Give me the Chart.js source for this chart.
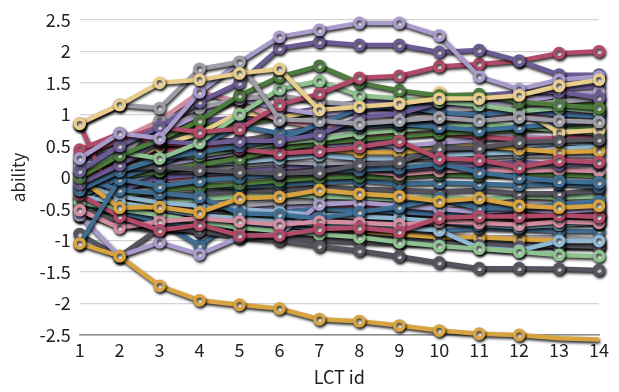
<!DOCTYPE html>
<html>
<head>
<meta charset="utf-8">
<script src="https://cdn.jsdelivr.net/npm/chart.js@4.4.1/dist/chart.umd.min.js"></script>
<style>
  html, body { margin: 0; padding: 0; background: #ffffff; }
  #wrap { position: relative; width: 619px; height: 392px; }
</style>
</head>
<body>
<div id="wrap"><canvas id="chart"></canvas></div>
<script>
// LCT ids along the x axis
const lctIds = ['1','2','3','4','5','6','7','8','9','10','11','12','13','14'];
const yMin = -2.5, yMax = 2.5, yStep = 0.5;

// ability estimates per learner, one value per LCT id
const goldBottom   = [-1.05,-1.25,-1.72,-1.95,-2.02,-2.08,-2.25,-2.28,-2.35,-2.43,-2.48,-2.50,-2.55,-2.57];
const goldTop      = [0.85,1.15,1.50,1.55,1.65,1.72,1.07,1.12,1.17,1.25,1.25,1.30,1.45,1.55];
const grayTop      = [0.85,1.15,1.10,1.72,1.83,0.92,0.90,0.85,0.90,0.95,0.90,0.95,0.90,0.88];
const lavenderTop  = [0.30,0.70,0.62,1.35,1.83,2.23,2.34,2.45,2.45,2.25,1.60,1.40,1.55,1.60];
const purpleTop    = [0.10,0.50,0.80,1.20,1.50,2.05,2.15,2.10,2.10,1.99,2.02,1.85,1.63,1.63];
const redRise      = [0.35,0.60,0.80,0.72,0.77,1.15,1.33,1.58,1.61,1.76,1.80,1.85,1.97,2.00];
const greenDark    = [0.00,0.35,0.60,0.90,1.30,1.60,1.77,1.50,1.38,1.30,1.32,1.20,1.15,1.10];
const greenLight   = [0.10,0.40,0.30,0.55,1.00,1.40,1.53,1.30,1.25,1.20,1.15,1.05,1.10,1.05];
const purpleMid    = [-0.10,0.20,0.58,0.53,0.58,0.58,0.68,0.95,1.01,1.19,1.25,1.36,1.36,1.26];
const blueUpper    = [-0.20,0.10,0.30,0.40,0.50,0.60,0.85,1.09,1.14,1.03,0.99,1.06,1.00,0.97];
const redMid       = [0.44,0.70,0.55,0.50,0.45,0.38,0.42,0.48,0.58,0.30,0.28,0.16,0.27,0.24];
const darkGrayMid  = [-0.20,0.14,0.17,0.12,0.09,0.06,0.08,0.20,0.24,0.46,0.47,0.56,0.58,0.60];
const blueLow      = [-1.05,-0.03,-0.14,-0.05,0.00,0.05,0.10,0.12,0.15,0.22,0.08,0.00,-0.06,-0.08];
const goldMid      = [-0.02,-0.48,-0.47,-0.56,-0.33,-0.31,-0.20,-0.26,-0.30,-0.38,-0.33,-0.45,-0.48,-0.45];
const redLow       = [-0.27,-0.62,-0.84,-0.75,-0.92,-0.92,-0.82,-0.80,-0.86,-0.64,-0.62,-0.62,-0.60,-0.63];
const pinkLow      = [-0.52,-0.80,-0.70,-0.65,-0.70,-0.75,-0.70,-0.72,-0.75,-0.70,-0.72,-0.75,-0.70,-0.72];
const blueMidLow   = [0.00,-0.20,-0.25,-0.31,-0.57,-0.59,-0.65,-0.55,-0.47,-0.33,-0.49,-0.49,-0.43,-0.38];
const purpleLow    = [-0.60,-1.25,-1.03,-1.22,-0.95,-0.90,-0.43,-0.40,-0.45,-0.50,-0.55,-0.50,-0.55,-0.50];
const darkGrayLow  = [-0.50,-0.70,-0.80,-0.85,-0.95,-1.00,-1.09,-1.16,-1.25,-1.35,-1.44,-1.44,-1.45,-1.47];
const greenLow     = [-0.40,-0.50,-0.60,-0.70,-0.80,-0.85,-0.90,-0.95,-1.03,-1.09,-1.13,-1.18,-1.23,-1.25];
const lightBlueLow = [-0.30,-0.40,-0.50,-0.60,-0.65,-0.70,-0.75,-0.78,-0.80,-0.84,-1.12,-1.16,-1.01,-1.01];
const lightBlueMid = [-0.10,-0.30,-0.40,-0.45,-0.50,-0.55,-0.60,-0.62,-0.65,-0.70,-0.75,-0.79,-0.75,-0.72];
const grayClimb    = [-0.90,-1.25,-0.80,-0.85,-0.90,-0.95,-1.00,-1.02,-1.05,-1.05,-1.08,-1.10,-1.08,-1.10];
const blueDip      = [-0.40,-0.55,-0.70,-1.08,-0.60,-0.55,-0.50,-0.52,-0.55,-0.58,-0.60,-0.62,-0.60,-0.62];
const redDrop      = [0.85,-0.58,-0.50,-0.45,-0.50,-0.55,-0.50,-0.45,-0.55,-0.60,-0.55,-0.60,-0.58,-0.60];
const grayA        = [0.20,0.30,0.90,1.10,1.25,1.30,1.20,1.15,1.10,1.05,1.10,1.15,1.20,1.25];
const lavenderA    = [0.10,0.40,0.70,1.00,1.24,1.10,1.00,1.05,1.00,1.10,1.15,1.20,1.30,1.35];
const pinkA        = [0.30,0.60,0.90,1.35,1.20,0.90,0.80,0.85,0.90,0.95,1.00,0.95,1.00,1.00];
const paleGoldA    = [-0.10,0.20,0.50,0.70,1.03,0.95,1.06,1.10,1.15,1.35,1.20,1.10,0.71,0.75];
const blueA        = [-0.30,0.00,0.20,0.50,0.82,0.70,0.75,0.80,0.85,0.80,0.75,0.80,0.85,0.90];
const darkGrayA    = [0.05,0.30,0.50,0.60,0.58,0.70,0.80,0.85,0.85,0.90,0.95,1.00,1.05,1.05];
const greenLightA  = [-0.20,0.10,0.30,0.35,0.45,0.55,0.60,0.70,0.75,0.80,0.85,0.80,0.75,0.70];
const greenDarkA   = [-0.30,0.00,0.10,0.20,0.30,0.45,0.55,0.60,0.65,0.70,0.72,0.75,0.80,0.78];
const redA         = [0.00,0.25,0.40,0.55,0.60,0.65,0.60,0.62,0.68,0.70,0.65,0.60,0.62,0.66];
const lavenderB    = [-0.15,0.05,0.20,0.30,0.40,0.50,0.50,0.55,0.50,0.55,0.60,0.65,0.62,0.60];
const goldA        = [0.10,0.15,0.25,0.35,0.35,0.40,0.45,0.40,0.40,0.45,0.50,0.45,0.40,0.42];
const lightBlueA   = [-0.35,-0.10,0.10,0.20,0.25,0.30,0.35,0.30,0.30,0.35,0.38,0.40,0.45,0.50];
const grayB        = [-0.05,0.05,0.10,0.10,0.20,0.25,0.22,0.25,0.30,0.30,0.32,0.35,0.35,0.35];
const purpleA      = [-0.40,-0.20,0.00,0.05,0.10,0.15,0.20,0.15,0.12,0.18,0.20,0.25,0.20,0.22];
const pinkB        = [-0.20,-0.10,-0.05,0.00,0.05,0.10,0.12,0.10,0.05,0.10,0.12,0.10,0.12,0.10];
const greenDarkB   = [-0.45,-0.30,-0.20,-0.15,-0.10,-0.05,0.00,0.02,0.00,0.05,0.03,0.05,0.05,0.02];
const blueB        = [-0.10,-0.15,-0.10,-0.12,-0.15,-0.10,-0.08,-0.05,-0.10,-0.08,-0.10,-0.12,-0.10,-0.15];
const darkGrayB    = [-0.30,-0.35,-0.30,-0.25,-0.20,-0.20,-0.15,-0.18,-0.20,-0.22,-0.20,-0.25,-0.25,-0.20];
const greenLightB  = [-0.50,-0.45,-0.40,-0.35,-0.30,-0.28,-0.30,-0.32,-0.35,-0.30,-0.35,-0.30,-0.32,-0.30];
const grayC        = [-0.55,-0.50,-0.45,-0.50,-0.45,-0.40,-0.38,-0.40,-0.42,-0.45,-0.40,-0.38,-0.40,-0.42];
const lavenderC    = [-0.35,-0.55,-0.60,-0.55,-0.50,-0.48,-0.43,-0.50,-0.55,-0.52,-0.55,-0.55,-0.50,-0.55];
const greenDarkC   = [-0.60,-0.60,-0.60,-0.62,-0.60,-0.62,-0.60,-0.62,-0.65,-0.60,-0.65,-0.65,-0.62,-0.60];
const redB         = [-0.45,-0.50,-0.55,-0.60,-0.65,-0.68,-0.72,-0.70,-0.75,-0.72,-0.70,-0.68,-0.70,-0.70];
const blueC        = [-0.60,-0.65,-0.70,-0.75,-0.80,-0.78,-0.79,-0.82,-0.80,-0.85,-0.80,-0.82,-0.85,-0.85];
const goldB        = [-0.50,-0.55,-0.60,-0.68,-0.72,-0.75,-0.80,-0.85,-0.90,-0.95,-0.95,-0.98,-1.00,-1.05];
const darkGrayC    = [-0.55,-0.75,-0.85,-0.80,-0.85,-0.90,-0.95,-0.95,-1.00,-1.00,-1.02,-1.05,-1.10,-1.10];
const grayD        = [-0.15,-0.25,-0.70,-0.70,-0.75,-0.80,-0.85,-0.88,-0.90,-0.92,-0.95,-0.95,-0.95,-0.98];
const lightBlueB   = [0.15,0.25,0.35,0.30,0.35,0.50,0.55,0.50,0.45,0.50,0.45,0.50,0.55,0.55];
const purpleB      = [0.25,0.45,0.75,0.90,0.95,1.00,1.10,1.20,1.20,1.25,1.30,1.35,1.40,1.45];
const greenDarkD   = [0.20,0.35,0.60,0.80,0.85,0.95,1.05,1.10,1.12,1.15,1.20,1.25,1.20,1.15];

// drawing order: first entry ends up on top
const seriesList = [
  goldBottom, goldTop, grayTop, lavenderTop, purpleTop, redRise, greenDark, greenLight,
  purpleMid, blueUpper, redMid, darkGrayMid, blueLow, goldMid, redLow, pinkLow, blueMidLow,
  purpleLow, darkGrayLow, greenLow, lightBlueLow, lightBlueMid, grayClimb, blueDip, redDrop,
  grayA, lavenderA, pinkA, paleGoldA, blueA, darkGrayA, greenLightA, greenDarkA, redA,
  lavenderB, goldA, lightBlueA, grayB, purpleA, pinkB, greenDarkB, blueB, darkGrayB,
  greenLightB, grayC, lavenderC, greenDarkC, redB, blueC, goldB, darkGrayC, grayD,
  lightBlueB, purpleB, greenDarkD
];

const palette = {
  gold: '#d8a441', paleGold: '#e9cd8c', lavender: '#a99bcc', purple: '#6c5c96',
  red: '#b24b69', pink: '#d48ea2', greenDark: '#4d7c3d', greenLight: '#8fc291',
  blue: '#3f6e94', lightBlue: '#91b8d2', darkGray: '#56545f', gray: '#9e9ca6'
};
const seriesColorKeys = [
  'gold','paleGold','gray','lavender','purple','red','greenDark','greenLight',
  'purple','blue','red','darkGray','blue','gold','red','pink','blue',
  'lavender','darkGray','greenLight','lightBlue','lightBlue','darkGray','blue','red',
  'gray','lavender','pink','paleGold','blue','darkGray','greenLight','greenDark','red',
  'lavender','gold','lightBlue','gray','purple','pink','greenDark','blue','darkGray',
  'greenLight','gray','lavender','greenDark','red','blue','gold','darkGray','gray',
  'lightBlue','purple','greenDark'
];

const datasets = seriesList.map((values, i) => {
  const color = palette[seriesColorKeys[i]];
  const radius = values === goldBottom
    ? values.map((v, j) => (j >= 12 ? 0 : 4.6))
    : 4.6;
  return {
    data: values,
    borderColor: color,
    backgroundColor: color,
    borderWidth: 4.5,
    pointRadius: radius,
    pointBorderWidth: 3.6,
    pointBackgroundColor: '#ffffff',
    pointBorderColor: color,
    tension: 0,
    clip: false
  };
});

// dark drop shadow under each line and its markers
const shadowPlugin = {
  id: 'lineShadow',
  beforeDatasetDraw(chart) {
    const ctx = chart.ctx;
    ctx.save();
    ctx.shadowColor = 'rgba(0,0,0,0.85)';
    ctx.shadowBlur = 3;
    ctx.shadowOffsetX = 1;
    ctx.shadowOffsetY = 2;
  },
  afterDatasetDraw(chart) {
    chart.ctx.restore();
  }
};

const fontFamily = '"Noto Sans CJK JP", "Noto Sans", sans-serif';
const tickFont = { family: fontFamily, size: 18 };

new Chart(document.getElementById('chart'), {
  type: 'line',
  data: { labels: lctIds, datasets },
  plugins: [shadowPlugin],
  options: {
    responsive: true,
    maintainAspectRatio: false,
    animation: false,
    events: [],
    layout: { padding: { top: 1, right: 20, bottom: 0, left: 8 } },
    plugins: { legend: { display: false }, tooltip: { enabled: false } },
    scales: {
      x: {
        type: 'category',
        offset: false,
        grid: { display: false, drawTicks: false },
        border: { display: true, color: '#8e8e8e', width: 1.5 },
        ticks: { color: '#222222', font: tickFont, padding: 4, maxRotation: 0, autoSkip: false },
        title: { display: true, text: 'LCT id', color: '#222222',
                 font: { family: fontFamily, size: 18 }, padding: { top: 0, bottom: 4 } },
        afterFit: (scale) => { scale.height = 57; }
      },
      y: {
        min: yMin, max: yMax,
        grid: {
          drawTicks: false,
          color: (c) => (c.tick && c.tick.value === yMin ? '#8e8e8e' : '#d4d4d4'),
          lineWidth: 1.2
        },
        border: { display: false },
        ticks: {
          stepSize: yStep, color: '#222222', font: tickFont, padding: 9,
          callback: (v) => String(Number(v))
        },
        title: { display: true, text: 'ability', color: '#222222',
                 font: { family: fontFamily, size: 17 }, padding: { top: 0, bottom: 2 } }
      }
    }
  }
});
</script>
</body>
</html>
